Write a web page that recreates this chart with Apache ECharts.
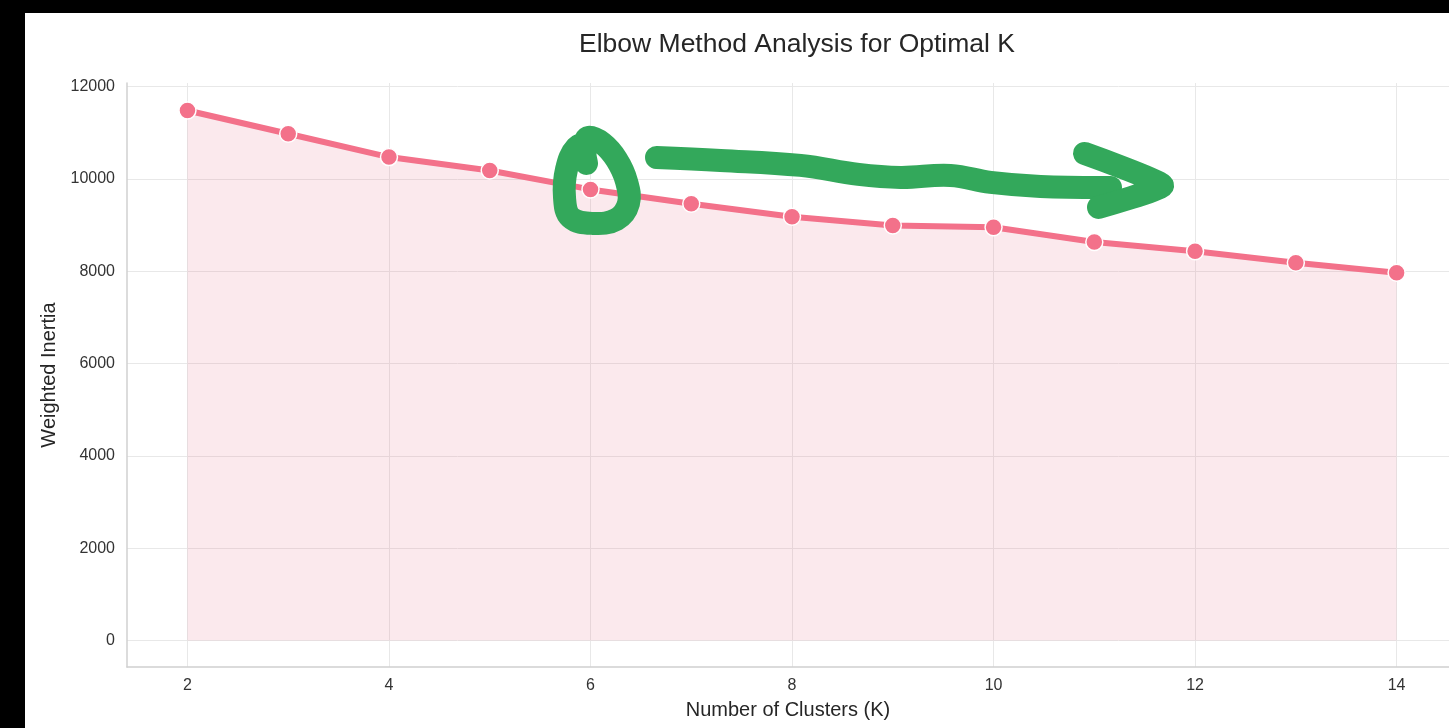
<!DOCTYPE html>
<html>
<head>
<meta charset="utf-8">
<title>Elbow Method Analysis for Optimal K</title>
<script src="https://cdn.jsdelivr.net/npm/echarts@6/dist/echarts.min.js"></script>
<style>
  html, body { margin: 0; padding: 0; background: #000; overflow: hidden; }
  #paper { position: absolute; left: 25px; top: 13px; width: 1424px; height: 715px; background: #fff; }
  #chart { position: absolute; left: 0; top: 0; width: 1449px; height: 728px; }
</style>
</head>
<body>
<div id="paper"></div>
<div id="chart"></div>
<script>
// data
const clusters = [2, 3, 4, 5, 6, 7, 8, 9, 10, 11, 12, 13, 14];
const inertia = [11480, 10975, 10470, 10180, 9770, 9460, 9180, 8990, 8950, 8630, 8430, 8180, 7965];
const xTicks = [2, 4, 6, 8, 10, 12, 14];
const yTicks = [0, 2000, 4000, 6000, 8000, 10000, 12000];

const FONT = "'Liberation Sans', Arial, Helvetica, sans-serif";
const LINE = "#f3718a";

const dom = document.getElementById("chart");
const chart = echarts.init(dom, null, { renderer: "canvas" });

chart.setOption({
  backgroundColor: "transparent",
  animation: false,
  title: {
    text: "Elbow Method Analysis for Optimal K",
    left: 792,
    top: 26,
    textAlign: "center",
    textStyle: { fontFamily: FONT, fontSize: 26.5, fontWeight: "normal", color: "#262626" },
  },
  grid: { left: 127, right: 0, top: 83, bottom: 61, containLabel: false },
  xAxis: {
    type: "value",
    min: 1.4,
    max: 14.52,
    name: "Number of Clusters (K)",
    nameLocation: "middle",
    nameGap: 33,
    nameTextStyle: { fontFamily: FONT, fontSize: 20, color: "#262626" },
    axisLine: { show: true, onZero: false, lineStyle: { color: "#d0d0d0", width: 1.5 } },
    axisTick: { show: false, customValues: xTicks },
    axisLabel: {
      customValues: xTicks,
      margin: 11,
      fontFamily: FONT,
      fontSize: 16,
      color: "#333",
    },
    splitLine: { show: true, lineStyle: { color: "#e8e8e8", width: 1 } },
  },
  yAxis: {
    type: "value",
    min: -575,
    max: 12075,
    name: "Weighted Inertia",
    nameLocation: "middle",
    nameGap: 66,
    nameTextStyle: { fontFamily: FONT, fontSize: 20, color: "#262626" },
    axisLine: { show: true, onZero: false, lineStyle: { color: "#d0d0d0", width: 1.5 } },
    axisTick: { show: false, customValues: yTicks },
    axisLabel: {
      customValues: yTicks,
      formatter: (v) => String(v),
      margin: 12,
      fontFamily: FONT,
      fontSize: 16,
      color: "#333",
    },
    splitLine: { show: true, lineStyle: { color: "#e8e8e8", width: 1 } },
  },
  series: [
    {
      type: "line",
      data: clusters.map((k, i) => [k, inertia[i]]),
      symbol: "circle",
      symbolSize: 17,
      lineStyle: { color: LINE, width: 6 },
      itemStyle: { color: LINE, borderColor: "#fff", borderWidth: 1.5 },
      areaStyle: { color: "rgba(232,110,135,0.22)", origin: 0 },
      z: 3,
    },
  ],
});

// hand-drawn green markup, anchored at the K = 6 point (pixel offsets from it)
const anchor = chart.convertToPixel({ gridIndex: 0 }, [clusters[4], inertia[4]]);
const loop = [
  [2, -48], [-14, -42], [-24, -20], [-26, 8], [-20, 28], [2, 34], [26, 30],
  [38, 14], [36, -8], [26, -30], [12, -46], [-2, -52], [-6, -44], [-4, -26],
];
const shaft = [
  [66, -32], [130, -29], [210, -24], [268, -15], [310, -12], [360, -14],
  [400, -7], [450, -3], [520, -2],
];
const head = [[494, -36], [572, -4], [508, 18]];
const toPx = (pts) => pts.map(([dx, dy]) => [anchor[0] + dx, anchor[1] + dy]);
const GREEN = "#33a85b";
const stroke = { stroke: GREEN, lineWidth: 23, lineCap: "round", lineJoin: "round", fill: null };

chart.setOption({
  graphic: [
    { type: "polyline", z: 100, shape: { points: toPx(loop), smooth: 0.4 }, style: stroke },
    { type: "polyline", z: 100, shape: { points: toPx(shaft), smooth: 0.4 }, style: stroke },
    { type: "polyline", z: 100, shape: { points: toPx(head), smooth: 0.15 }, style: stroke },
  ],
});
</script>
</body>
</html>
